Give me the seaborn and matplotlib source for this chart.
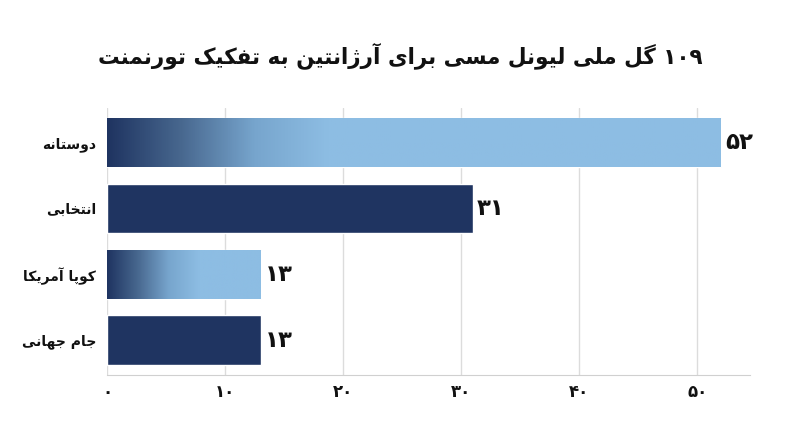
import numpy as np
import pandas as pd
import seaborn as sns
import matplotlib.pyplot as plt
from matplotlib.colors import LinearSegmentedColormap

# data
title = "۱۰۹ گل ملی لیونل مسی برای آرژانتین به تفکیک تورنمنت"
categories = ["دوستانه", "انتخابی", "کوپا آمریکا", "جام جهانی"]
goals = [52, 31, 13, 13]
gradient_bar = [True, False, True, False]
x_ticks = [0, 10, 20, 30, 40, 50]

DARK = "#1f3461"
LIGHT = "#8dbde3"

# isolated, final, initial, medial (None -> right-joining letter)
FORMS = {
    "ا": ("\uFE8D", "\uFE8E", None, None),
    "آ": ("\uFE81", "\uFE82", None, None),
    "د": ("\uFEA9", "\uFEAA", None, None),
    "ر": ("\uFEAD", "\uFEAE", None, None),
    "ژ": ("\uFB8A", "\uFB8B", None, None),
    "و": ("\uFEED", "\uFEEE", None, None),
    "ب": ("\uFE8F", "\uFE90", "\uFE91", "\uFE92"),
    "پ": ("\uFB56", "\uFB57", "\uFB58", "\uFB59"),
    "ت": ("\uFE95", "\uFE96", "\uFE97", "\uFE98"),
    "ج": ("\uFE9D", "\uFE9E", "\uFE9F", "\uFEA0"),
    "خ": ("\uFEA5", "\uFEA6", "\uFEA7", "\uFEA8"),
    "س": ("\uFEB1", "\uFEB2", "\uFEB3", "\uFEB4"),
    "ف": ("\uFED1", "\uFED2", "\uFED3", "\uFED4"),
    "ک": ("\uFB8E", "\uFB8F", "\uFB90", "\uFB91"),
    "گ": ("\uFB92", "\uFB93", "\uFB94", "\uFB95"),
    "ل": ("\uFEDD", "\uFEDE", "\uFEDF", "\uFEE0"),
    "م": ("\uFEE1", "\uFEE2", "\uFEE3", "\uFEE4"),
    "ن": ("\uFEE5", "\uFEE6", "\uFEE7", "\uFEE8"),
    "ه": ("\uFEE9", "\uFEEA", "\uFEEB", "\uFEEC"),
    "ی": ("\uFBFC", "\uFBFD", "\uFBFE", "\uFBFF"),
}
FA_DIGITS = "۰۱۲۳۴۵۶۷۸۹"


def shape_word(w):
    if all(c in FA_DIGITS for c in w):
        return w
    out = []
    for i, c in enumerate(w):
        if c not in FORMS:
            out.append(c)
            continue
        prev = w[i - 1] if i > 0 else None
        nxt = w[i + 1] if i + 1 < len(w) else None
        jp = prev in FORMS and FORMS[prev][2] is not None
        jn = nxt in FORMS and FORMS[c][2] is not None
        iso, fin, ini, med = FORMS[c]
        if jp and jn:
            out.append(med)
        elif jp:
            out.append(fin)
        elif jn:
            out.append(ini)
        else:
            out.append(iso)
    return "".join(out)[::-1]


def fa(text):
    # matplotlib has no bidi: lay the words out right to left by hand
    words = [shape_word(w) for w in text.split(" ")]
    return " ".join(words[::-1])


def fa_num(n):
    return "".join(FA_DIGITS[int(d)] for d in str(n))


sns.set_style("white")
plt.rcParams["font.family"] = ["DejaVu Sans"]

df = pd.DataFrame({"cat": categories, "goals": goals})

fig = plt.figure(figsize=(8, 4.47), dpi=100)
ax = fig.add_axes([0.134, 0.161, 0.804, 0.597])
sns.barplot(data=df, y="cat", x="goals", orient="h", color=DARK,
            width=0.75, ax=ax, zorder=3, saturation=1)

cmap = LinearSegmentedColormap.from_list("g", [DARK, "#48688f", "#77a5cd", LIGHT])
for patch, grad, v in zip(ax.patches, gradient_bar, goals):
    if grad:
        x0, y0 = patch.get_x(), patch.get_y()
        w, h = patch.get_width(), patch.get_height()
        frac = 0.36 if v > 30 else 0.6
        t = np.clip(np.linspace(0, 1, 300) / frac, 0, 1)
        img = ax.imshow(t[None, :], cmap=cmap, aspect="auto", vmin=0, vmax=1,
                        extent=(x0, x0 + w, y0 + h, y0), zorder=3.5)
        img.set_clip_path(patch)
    ax.text(v + 0.35, patch.get_y() + patch.get_height() / 2, fa_num(v),
            ha="left", va="center", fontsize=16.5, fontweight="bold", color="#111111")

ax.set_xlim(0, 54.5)
ax.set_ylim(3.53, -0.52)
ax.set_xticks(x_ticks)
ax.set_xticklabels([fa_num(t) for t in x_ticks], fontsize=12, fontweight="bold", color="#111111")
ax.set_yticks(range(len(categories)))
ax.set_yticklabels([fa(c) for c in categories], fontsize=10, fontweight="bold", color="#111111")
ax.set_xlabel("")
ax.set_ylabel("")
ax.grid(axis="x", color="#dcdcdc", linewidth=1, zorder=0)
ax.tick_params(axis="both", length=0)
ax.tick_params(axis="x", pad=6)
ax.tick_params(axis="y", pad=8)
for s in ["top", "right", "left"]:
    ax.spines[s].set_visible(False)
ax.spines["bottom"].set_color("#d0d0d0")

fig.text(0.5, 0.875, fa(title), ha="center", va="center", fontsize=15.5,
         fontweight="bold", color="#111111")

fig.savefig("out.png", dpi=100, facecolor="white")
